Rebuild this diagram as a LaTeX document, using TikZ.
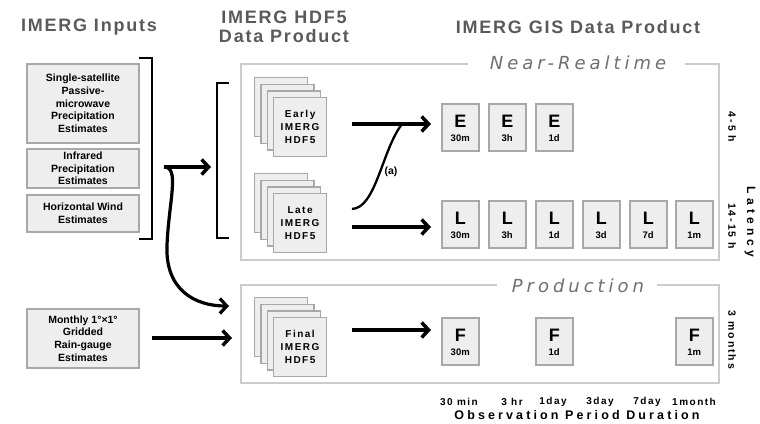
\documentclass[tikz,border=0pt]{standalone}
\usepackage{fontspec}
\setmainfont{Liberation Sans}
\newfontfamily\ttl[LetterSpace=10]{Liberation Sans}
\newfontfamily\spc[LetterSpace=15]{Liberation Sans}
\newfontfamily\sidef[LetterSpace=18]{Liberation Sans}
\newfontfamily\wide[LetterSpace=25]{Liberation Sans}
\newfontfamily\latf[LetterSpace=35]{Liberation Sans}
\newfontfamily\obl[LetterSpace=22]{DejaVu Sans}
\usetikzlibrary{arrows.meta,calc}
\definecolor{boxfill}{HTML}{EEEEEE}
\definecolor{boxline}{HTML}{A8A8A8}
\definecolor{framec}{HTML}{CCCCCC}
\definecolor{ttlgray}{HTML}{5A5A5A}
\definecolor{lblgray}{HTML}{707070}
\tikzset{
 inbox/.style={draw=boxline, fill=boxfill, line width=1.5pt, minimum width=112pt, align=center, inner sep=0pt, font=\fontsize{10.5}{12.7}\selectfont\bfseries},
 gbox/.style={draw=boxline, fill=boxfill, line width=1.5pt, minimum width=37pt, minimum height=47pt, inner sep=0pt, anchor=north west},
 pagebox/.style={draw=boxline, fill=boxfill, line width=1.2pt, minimum width=53pt, minimum height=59pt, inner sep=0pt, anchor=north west, align=center, font=\spc\fontsize{10}{13}\selectfont\bfseries},
 bigarrow/.style={line width=3.5pt, -{Straight Barb[length=7pt,width=15pt]}},
 bracketline/.style={line width=2.5pt},
 frameline/.style={draw=framec, line width=1.5pt},
 title/.style={font=\ttl\fontsize{18}{19}\selectfont\bfseries, text=ttlgray, align=center},
 section/.style={font=\obl\itshape\fontsize{18}{18}\selectfont, text=lblgray},
 axislbl/.style={font=\spc\fontsize{10}{10}\selectfont\bfseries},
 sidelbl/.style={font=\sidef\fontsize{10.5}{11}\selectfont\bfseries, rotate=-90},
}
\newcommand\gb[5]{%
 \node[gbox] (#1) at (#2,#3) {};
 \node[font=\fontsize{18}{18}\selectfont\bfseries] (#1l) at ($(#1.north)+(0,18)$) {#4};
 \node[font=\fontsize{9.5}{10}\selectfont\bfseries] (#1s) at ($(#1.north)+(0,35.5)$) {#5};}
\newcommand\stk[4]{%
 \node[pagebox] (#1a) at (#2,#3) {};
 \node[pagebox] (#1b) at ($(#2,#3)+(6.33,6.67)$) {};
 \node[pagebox] (#1c) at ($(#2,#3)+(12.67,13.33)$) {};
 \node[pagebox] (#1) at ($(#2,#3)+(19,20)$) {#4};}
\begin{document}
\begin{tikzpicture}[x=1pt,y=-1pt]
\useasboundingbox[fill=white] (0,0) rectangle (760,423);

% titles
\node[title] (t1) at (89,27) {IMERG Inputs};
\node[title] (t2) at (284,27) {IMERG HDF5\\Data Product};
\node[title] (t3) at (578,27) {IMERG GIS Data Product};

% input boxes
\node[inbox, minimum height=79pt] (pm) at (83,103.5) {Single-satellite\\Passive-\\microwave\\Precipitation\\Estimates};
\node[inbox, minimum height=39pt] (ir) at (83,168.5) {Infrared\\Precipitation\\Estimates};
\node[inbox, minimum height=37pt] (hw) at (83,213.5) {Horizontal Wind\\Estimates};
\node[inbox, minimum height=59pt] (rg) at (83,338.5) {Monthly 1°×1°\\Gridded\\Rain-gauge\\Estimates};

% brackets
\draw[bracketline] (139,58) -- (152,58) -- (152,239) -- (139,239);
\draw[bracketline] (229,83) -- (217,83) -- (217,238) -- (229,238);

% frames
\draw[frameline] (468,64) -- (241,64) -- (241,260) -- (719,260) -- (719,64) -- (685,64);
\draw[frameline] (497,285) -- (241,285) -- (241,383) -- (719,383) -- (719,285) -- (657,285);
\node[section] (nrt) at (578,63) {Near-Realtime};
\node[section] (prod) at (578,286) {Production};

% HDF5 stacks
\stk{early}{254}{77}{Early\\IMERG\\HDF5}
\stk{late}{254}{173}{Late\\IMERG\\HDF5}
\stk{final}{254}{297}{Final\\IMERG\\HDF5}

% GIS boxes
\gb{e1}{441}{103}{E}{30m}
\gb{e2}{488}{103}{E}{3h}
\gb{e3}{535}{103}{E}{1d}
\gb{l1}{441}{200}{L}{30m}
\gb{l2}{488}{200}{L}{3h}
\gb{l3}{535}{200}{L}{1d}
\gb{l4}{582}{200}{L}{3d}
\gb{l5}{629}{200}{L}{7d}
\gb{l6}{675}{200}{L}{1m}
\gb{f1}{441}{317}{F}{30m}
\gb{f2}{535}{317}{F}{1d}
\gb{f3}{675}{317}{F}{1m}

% arrows HDF5 -> GIS
\coordinate (ea0) at (352,124);
\coordinate (ea1) at (431,124);
\coordinate (la0) at (352,227);
\coordinate (la1) at (431,227);
\coordinate (fa0) at (352,330);
\coordinate (fa1) at (431,330);
\coordinate (cs) at (352,209);
\coordinate (ce) at (402,124);
\draw[bigarrow] (ea0) -- (ea1);
\draw[bigarrow] (la0) -- (la1);
\draw[bigarrow] (fa0) -- (fa1);
\draw[line width=2.3pt] (cs) .. controls (376,208) and (382,150) .. (ce);
\node[font=\fontsize{10.5}{11}\selectfont\bfseries] (alab) at (391,172) {(a)};

% input arrows
\coordinate (ia0) at (164,167);
\coordinate (ia1) at (211,167);
\coordinate (ib1) at (229,306);
\coordinate (ra0) at (152,338);
\coordinate (ra1) at (232,338);
\draw[bigarrow] (ia0) -- (ia1);
\draw[line width=3.2pt, -{Straight Barb[length=7pt,width=15pt]}] (ia0) .. controls (180,167) and (169,200) .. (167,245) .. controls (165,290) and (195,306) .. (ib1);
\draw[bigarrow] (ra0) -- (ra1);

% side labels
\node[sidelbl] (lat1) at (732,127) {4-5 h};
\node[sidelbl] (lat2) at (732,226) {14-15 h};
\node[sidelbl] (lat3) at (732,340) {3 months};
\node[font=\latf\fontsize{12}{12}\selectfont\bfseries, rotate=-90] (lat) at (750,222) {Latency};

% bottom axis labels
\node[axislbl] (o1) at (459,402) {30 min};
\node[axislbl] (o2) at (512,402) {3 hr};
\node[axislbl] (o3) at (553,402) {1day};
\node[axislbl] (o4) at (600,402) {3day};
\node[axislbl] (o5) at (647,402) {7day};
\node[axislbl] (o6) at (694,402) {1month};
\node[font=\wide\fontsize{12.5}{13}\selectfont\bfseries] (obs) at (577,415) {Observation Period Duration};
\end{tikzpicture}
\end{document}
